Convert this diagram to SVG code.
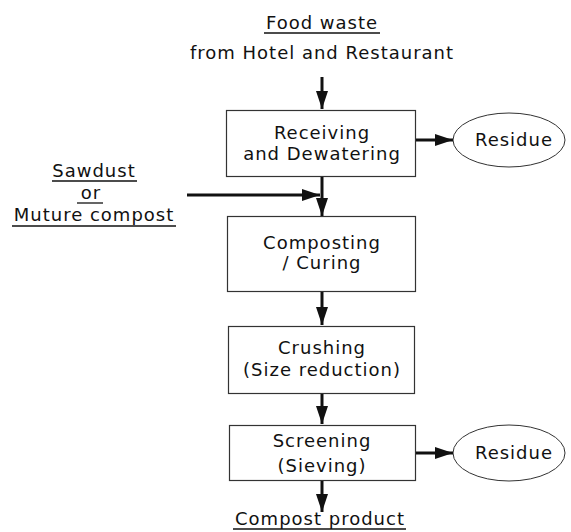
<svg xmlns="http://www.w3.org/2000/svg" width="571" height="532" viewBox="0 0 571 532">
  <style>
    text { font-family: "DejaVu Sans", "Liberation Sans", sans-serif; font-size: 18px; letter-spacing: 1px; fill: #111; text-anchor: middle; }
    .box { fill: #fff; stroke: #333; stroke-width: 1.2; }
    .oval { fill: #fff; stroke: #333; stroke-width: 1; }
    .flow { stroke: #111; stroke-width: 3; fill: none; marker-end: url(#head); }
    .ul { stroke: #111; stroke-width: 1.3; }
  </style>
  <defs>
    <marker id="head" viewBox="0 0 18 12" refX="18" refY="6" markerWidth="18" markerHeight="12" markerUnits="userSpaceOnUse" orient="auto">
      <path d="M0,0 L18,6 L0,12 Z" fill="#111"/>
    </marker>
  </defs>

  <rect width="571" height="532" fill="#fff"/>

  <!-- input / output labels -->
  <g id="food-waste">
    <text x="322" y="29">Food waste</text>
    <line class="ul" x1="264" y1="33" x2="380" y2="33"/>
    <text x="322" y="59">from Hotel and Restaurant</text>
  </g>

  <g id="sawdust">
    <text x="94" y="177">Sawdust</text>
    <line class="ul" x1="52" y1="181" x2="137" y2="181"/>
    <text x="91" y="199">or</text>
    <line class="ul" x1="77" y1="203" x2="103" y2="203"/>
    <text x="94" y="221">Muture compost</text>
    <line class="ul" x1="12" y1="226" x2="176" y2="226"/>
  </g>

  <g id="compost-product">
    <text x="320" y="525">Compost product</text>
    <line class="ul" x1="233" y1="529" x2="406" y2="529"/>
  </g>

  <!-- process steps -->
  <g id="receiving">
    <rect class="box" x="226.5" y="110.5" width="189" height="66"/>
    <text x="322" y="139">Receiving</text>
    <text x="322" y="160">and Dewatering</text>
  </g>

  <g id="composting">
    <rect class="box" x="227.5" y="216.5" width="188" height="75"/>
    <text x="322" y="249">Composting</text>
    <text x="322" y="269">/ Curing</text>
  </g>

  <g id="crushing">
    <rect class="box" x="228.5" y="326.5" width="186" height="67"/>
    <text x="322" y="354">Crushing</text>
    <text x="322" y="376">(Size reduction)</text>
  </g>

  <g id="screening">
    <rect class="box" x="229.5" y="425.5" width="186" height="55"/>
    <text x="322" y="447">Screening</text>
    <text x="322" y="472">(Sieving)</text>
  </g>

  <!-- residues -->
  <g id="residue-1">
    <ellipse class="oval" cx="509" cy="140" rx="56" ry="27"/>
    <text x="514" y="146">Residue</text>
  </g>

  <g id="residue-2">
    <ellipse class="oval" cx="509" cy="453" rx="56" ry="28"/>
    <text x="514" y="459">Residue</text>
  </g>

  <!-- flow connectors -->
  <g id="connectors">
    <line class="flow" x1="322" y1="77" x2="322" y2="109"/>
    <line class="flow" x1="322" y1="177" x2="322" y2="216"/>
    <line class="flow" x1="187" y1="195" x2="320" y2="195"/>
    <line class="flow" x1="322" y1="292" x2="322" y2="325"/>
    <line class="flow" x1="322" y1="394" x2="322" y2="424"/>
    <line class="flow" x1="322" y1="481" x2="322" y2="512"/>
    <line class="flow" x1="416" y1="140" x2="453" y2="140"/>
    <line class="flow" x1="416" y1="453" x2="453" y2="453"/>
  </g>
</svg>
